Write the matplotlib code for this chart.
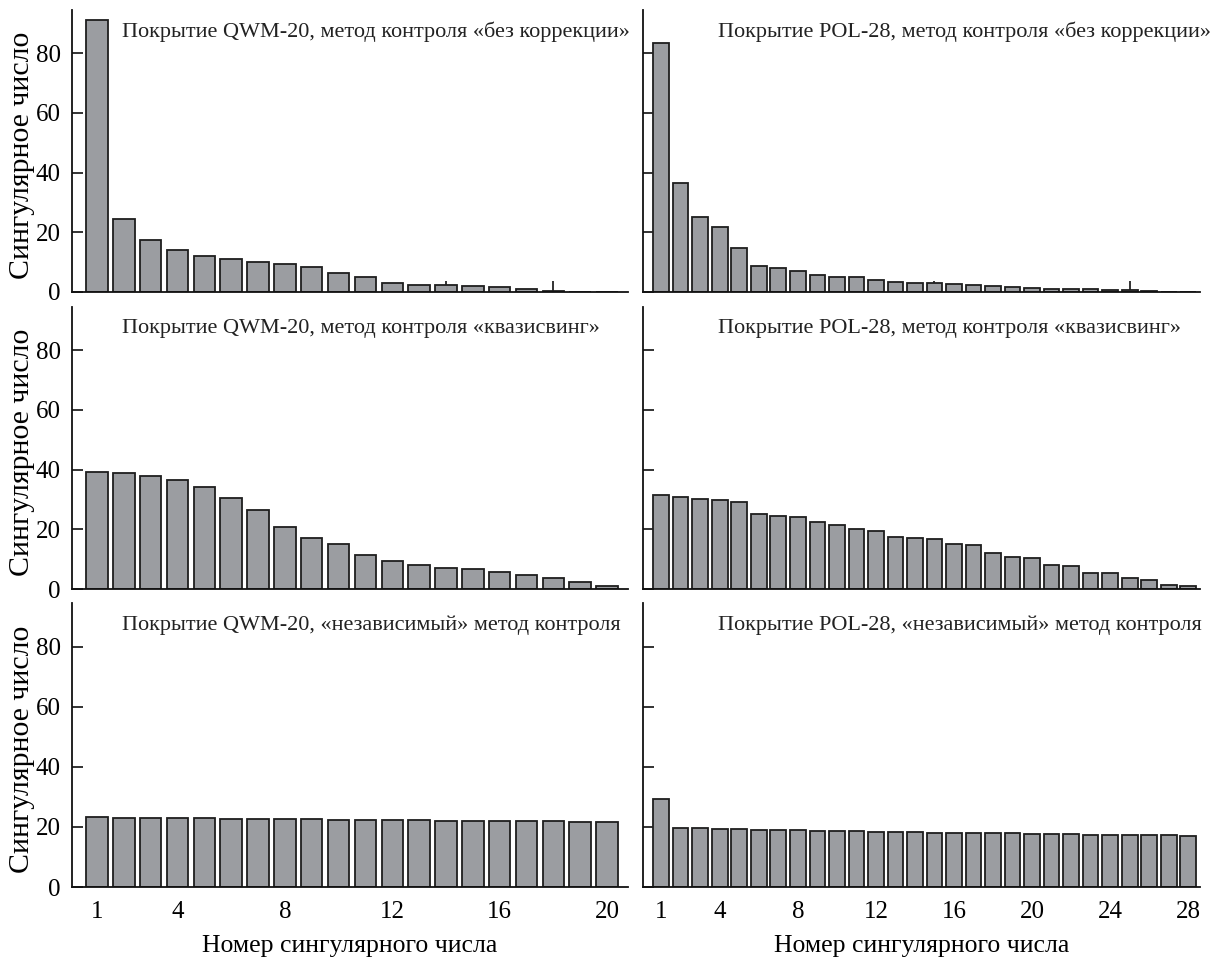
import matplotlib
matplotlib.use("Agg")
import matplotlib.pyplot as plt
from matplotlib.ticker import FixedLocator

plt.rcParams['font.family'] = ['Liberation Serif', 'DejaVu Serif']

# ---- data ----
qwm_none = [91.0, 24.6, 17.5, 14.2, 11.9, 11.1, 10.1, 9.3, 8.4, 6.2,
            4.9, 3.0, 2.5, 2.3, 2.0, 1.6, 0.9, 0.45, 0.15, 0.1]
pol_none = [83.6, 36.4, 25.3, 21.7, 14.7, 8.6, 8.1, 7.0, 5.6, 5.1,
            4.9, 4.0, 3.4, 3.1, 3.0, 2.7, 2.5, 1.9, 1.8, 1.5,
            1.1, 1.0, 0.9, 0.7, 0.6, 0.35, 0.15, 0.05]
qwm_quasi = [39.2, 38.9, 37.9, 36.6, 34.3, 30.5, 26.4, 20.7, 17.0, 15.2,
             11.5, 9.3, 8.0, 7.2, 6.6, 5.7, 4.7, 3.7, 2.2, 0.9]
pol_quasi = [31.6, 30.8, 30.0, 29.8, 29.0, 25.1, 24.6, 24.1, 22.6, 21.4,
             20.0, 19.5, 17.3, 17.1, 16.7, 15.2, 14.8, 12.0, 10.7, 10.5,
             8.1, 7.7, 5.5, 5.3, 3.6, 3.0, 1.2, 1.0]
qwm_indep = [23.2, 23.1, 23.0, 22.9, 22.8, 22.7, 22.7, 22.5, 22.5, 22.4,
             22.4, 22.3, 22.2, 22.1, 22.0, 22.0, 21.9, 21.8, 21.7, 21.6]
pol_indep = [29.4, 19.7, 19.5, 19.4, 19.2, 19.1, 19.0, 18.9, 18.8, 18.7,
             18.6, 18.35, 18.2, 18.2, 18.1, 18.1, 18.0, 18.0, 17.9, 17.8,
             17.7, 17.6, 17.45, 17.45, 17.3, 17.3, 17.2, 17.0]

titles_left = ["Покрытие QWM-20, метод контроля «без коррекции»",
               "Покрытие QWM-20, метод контроля «квазисвинг»",
               "Покрытие QWM-20, «независимый» метод контроля"]
titles_right = ["Покрытие POL-28, метод контроля «без коррекции»",
                "Покрытие POL-28, метод контроля «квазисвинг»",
                "Покрытие POL-28, «независимый» метод контроля"]

left_labels = [1, 4, 8, 12, 16, 20]
right_labels = [1, 4, 8, 12, 16, 20, 24, 28]
left_minor = [2, 4, 6, 8, 10, 12, 14, 16, 18, 20]
right_minor = [5, 10, 15, 20, 25]
y_ticks = [0, 20, 40, 60, 80]

ylabel = "Сингулярное число"
xlabel = "Номер сингулярного числа"

# ---- layout ----
W, H = 1219, 960
fig = plt.figure(figsize=(W / 100, H / 100), dpi=100)

rows_px = [(10, 292), (307, 589), (603, 887)]
cols_px = [(72, 628), (643, 1200)]
xlims = [(0.07, 20.78), (0.07, 28.6)]

left_data = [qwm_none, qwm_quasi, qwm_indep]
right_data = [pol_none, pol_quasi, pol_indep]

bar_color = "#9b9da1"
edge_color = "#1e1e1e"

for r, (top, bot) in enumerate(rows_px):
    for c, (x0, x1) in enumerate(cols_px):
        ax = fig.add_axes([x0 / W, 1 - bot / H, (x1 - x0) / W, (bot - top) / H])
        data = left_data[r] if c == 0 else right_data[r]
        n = len(data)
        xs = list(range(1, n + 1))
        ax.bar(xs, data, width=0.8, color=bar_color, edgecolor=edge_color,
               linewidth=1.3, zorder=2)
        ax.set_xlim(*xlims[c])
        ax.set_ylim(0, 94.5)
        for s in ["top", "right"]:
            ax.spines[s].set_visible(False)
        for s in ["left", "bottom"]:
            ax.spines[s].set_linewidth(1.3)
            ax.spines[s].set_color("#111111")
            ax.spines[s].set_zorder(3)

        labels = left_labels if c == 0 else right_labels
        minor = left_minor if c == 0 else right_minor
        ax.xaxis.set_major_locator(FixedLocator(labels))
        ax.xaxis.set_minor_locator(FixedLocator(minor))
        ax.tick_params(axis="x", which="major", length=0, pad=10,
                       labelsize=18, labelbottom=(r == 2))
        ax.tick_params(axis="x", which="minor", direction="in", length=8,
                       width=1.2, color="#111111")
        ax.set_yticks(y_ticks)
        ax.tick_params(axis="y", which="major", direction="in", length=8,
                       width=1.2, color="#111111", pad=8, labelsize=18,
                       labelleft=(c == 0))
        for t in ax.xaxis.get_minorticklines():
            t.set_zorder(4)

        title = titles_left[r] if c == 0 else titles_right[r]
        tx = (122 - x0) / (x1 - x0) if c == 0 else (718 - x0) / (x1 - x0)
        ax.text(tx, 1 - 22 / (bot - top), title, transform=ax.transAxes,
                ha="left", va="center", fontsize=16, color="#222222")

        if c == 0:
            yc = (top + bot) / 2 + 4
            fig.text(29 / W, 1 - yc / H, ylabel, rotation=90,
                     rotation_mode="anchor", ha="center", va="baseline",
                     fontsize=21.5)
        if r == 2:
            ax.text(0.5, -(946 - bot) / (bot - top), xlabel,
                    transform=ax.transAxes, ha="center", va="center",
                    fontsize=18.5)

fig.savefig("out.png", dpi=100)
